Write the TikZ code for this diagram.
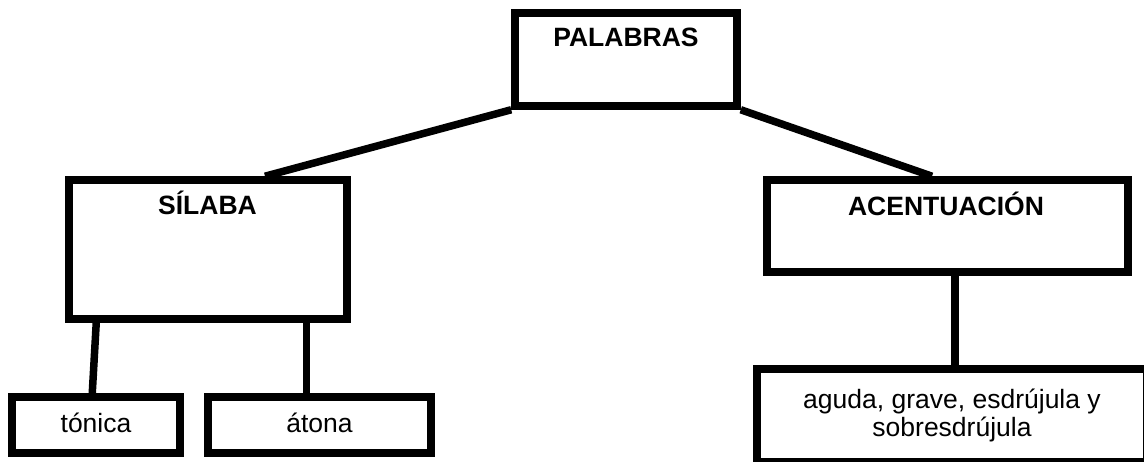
\documentclass[tikz,border=0pt]{standalone}
\usepackage{fontspec}
\setmainfont{Liberation Sans}
\begin{document}
\begin{tikzpicture}[x=1pt,y=-1pt,
  box/.style n args={2}{draw, line width=7.5pt, inner sep=0pt, minimum width=#1pt, minimum height=#2pt},
  conn/.style={line width=7.5pt},
  ttl/.style={font=\bfseries\fontsize{26.5}{30}\selectfont, anchor=base, inner sep=0pt},
  txt/.style={font=\fontsize{26.5}{28}\selectfont, inner sep=0pt}]
\useasboundingbox (0,0) rectangle (1144,461);
% boxes
\node[box={222}{93}] (pal) at (626,59.5) {};
\node[box={278}{139}] (sil) at (208,249.5) {};
\node[box={361}{92}] (acc) at (947.5,226) {};
\node[box={168}{56}] (ton) at (96,425) {};
\node[box={223}{56}] (ato) at (319.5,425) {};
\node[box={390}{93}, txt, align=center] (agu) at (952,415.5) {aguda, grave, esdrújula y\\sobresdrújula};
% texts
\node[ttl] (palt) at ([yshift=-37pt]pal.north) {PALABRAS};
\node[ttl] (silt) at ([xshift=-0.5pt,yshift=-38pt]sil.north) {SÍLABA};
\node[ttl] (acct) at ([xshift=-1.5pt,yshift=-39pt]acc.north) {ACENTUACIÓN};
\node[txt, anchor=base] (tont) at ([yshift=-7pt]ton.center) {tónica};
\node[txt, anchor=base] (atot) at ([yshift=-7pt]ato.center) {átona};
% connectors
\draw[conn] (pal.south west) -- ([xshift=57pt]sil.north);
\draw[conn] (pal.south east) -- ([xshift=-15.5pt]acc.north);
\draw[conn] ([xshift=31pt]sil.south west) -- ([xshift=84pt]ton.north west);
\draw[conn] ([xshift=241pt]sil.south west) -- ([xshift=102pt]ato.north west);
\draw[conn] ([xshift=7.5pt,yshift=6pt]acc.south) -- ([xshift=3pt]agu.north);
\end{tikzpicture}
\end{document}
